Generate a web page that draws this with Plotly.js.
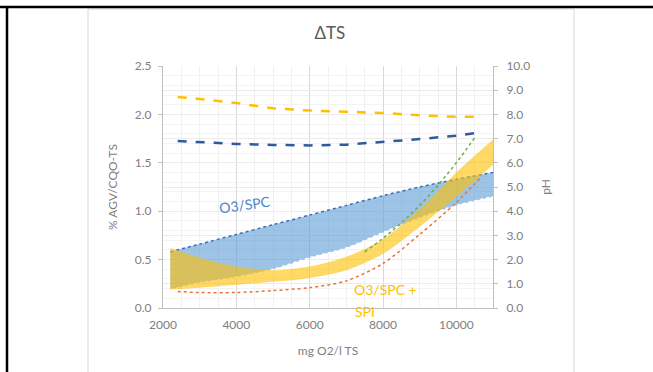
<!DOCTYPE html>
<html>
<head>
<meta charset="utf-8">
<script src="https://cdn.plot.ly/plotly-3.0.1.min.js"></script>
<style>
  html, body { margin: 0; padding: 0; background: #ffffff; }
  #chart { width: 653px; height: 372px; }
</style>
</head>
<body>
<div id="chart"></div>
<script>
// Dose axis (mg O2/l TS) for the shaded ranges
const bandX = [2200, 3000, 4000, 5000, 6000, 7000, 8000, 9000, 10000, 11000];
// O3/SPC range of % AGV/CQO-TS
const spcUpper = [0.58, 0.66, 0.76, 0.86, 0.96, 1.06, 1.16, 1.25, 1.33, 1.40];
const spcLower = [0.19, 0.26, 0.32, 0.40, 0.52, 0.62, 0.78, 0.93, 1.06, 1.15];
// O3/SPC + SPI range of % AGV/CQO-TS
const spiUpper = [0.62, 0.52, 0.43, 0.39, 0.43, 0.53, 0.71, 1.02, 1.40, 1.74];
const spiLower = [0.19, 0.21, 0.24, 0.27, 0.31, 0.39, 0.56, 0.84, 1.15, 1.48];

// Lower limit line of the O3/SPC + SPI range
const limitX = [2400, 3000, 4000, 5000, 6000, 7000, 8000, 9000, 10000, 10700];
const spiLimit = [0.17, 0.16, 0.16, 0.18, 0.21, 0.28, 0.46, 0.76, 1.09, 1.36];

// Trend line
const trendX = [7500, 8000, 8500, 9000, 9500, 10000, 10500];
const trendY = [0.58, 0.72, 0.88, 1.06, 1.27, 1.50, 1.76];

// pH (right axis)
const phX = [2400, 3000, 4000, 5000, 6000, 7000, 8000, 9000, 10000, 10600];
const phSpi = [8.72, 8.64, 8.47, 8.25, 8.16, 8.10, 8.06, 7.96, 7.90, 7.90];
const phSpc = [6.90, 6.85, 6.78, 6.74, 6.72, 6.75, 6.85, 6.98, 7.12, 7.25];

// Tick labels
const xTicks = [2000, 4000, 6000, 8000, 10000];

const FONT = 'Lato, "Open Sans", sans-serif';
const GREY = '#808080';

const traces = [
  { x: bandX, y: spcLower, type: 'scatter', mode: 'lines',
    line: { color: '#ffffff', width: 1.5, dash: 'dot', shape: 'spline', smoothing: 0.8 }, showlegend: false },
  { x: bandX, y: spcUpper, type: 'scatter', mode: 'lines', fill: 'tonexty',
    fillcolor: 'rgba(91,155,213,0.6)',
    line: { color: '#3a6fb5', width: 1.5, dash: 'dot', shape: 'spline', smoothing: 0.8 }, showlegend: false },
  { x: bandX, y: spiLower, type: 'scatter', mode: 'lines',
    line: { color: 'rgba(0,0,0,0)', width: 0, shape: 'spline', smoothing: 0.8 }, showlegend: false },
  { x: bandX, y: spiUpper, type: 'scatter', mode: 'lines', fill: 'tonexty',
    fillcolor: 'rgba(255,192,0,0.6)',
    line: { color: 'rgba(0,0,0,0)', width: 0, shape: 'spline', smoothing: 0.8 }, showlegend: false },
  { x: limitX, y: spiLimit, type: 'scatter', mode: 'lines',
    line: { color: '#e8743b', width: 1.5, dash: 'dot', shape: 'spline', smoothing: 0.8 }, showlegend: false },
  { x: trendX, y: trendY, type: 'scatter', mode: 'lines',
    line: { color: '#70ad47', width: 1.5, dash: 'dot', shape: 'spline' }, showlegend: false },
  { x: phX, y: phSpi, type: 'scatter', mode: 'lines', yaxis: 'y2',
    line: { color: '#ffc000', width: 2.5, dash: 'dash' }, showlegend: false },
  { x: phX, y: phSpc, type: 'scatter', mode: 'lines', yaxis: 'y2',
    line: { color: '#2e5c9a', width: 2.5, dash: 'dash' }, showlegend: false }
];

const tickFont = { family: FONT, size: 12, color: GREY };

const layout = {
  width: 653,
  height: 372,
  margin: { l: 163, r: 160, t: 66, b: 64 },
  paper_bgcolor: '#ffffff',
  plot_bgcolor: '#ffffff',
  showlegend: false,
  hovermode: false,
  title: {
    text: 'ΔTS',
    font: { family: FONT, size: 17, color: '#595959' },
    xref: 'paper', x: 0.506, xanchor: 'center',
    yref: 'container', y: 0.911, yanchor: 'middle'
  },
  xaxis: {
    range: [2000, 11000],
    tickvals: xTicks,
    ticktext: xTicks.map(String),
    showgrid: true, gridcolor: '#d9d9d9', gridwidth: 1,
    minor: { dtick: 500, tick0: 2000, showgrid: true, gridcolor: '#f0f0f0' },
    showline: true, linecolor: '#bfbfbf', linewidth: 1,
    zeroline: false, ticks: '',
    ticklabelstandoff: 6,
    tickfont: tickFont,
    title: { text: 'mg O2/l TS', font: { family: FONT, size: 12, color: GREY }, standoff: 15 }
  },
  yaxis: {
    range: [0, 2.5],
    dtick: 0.5, tick0: 0, tickformat: '.1f',
    showgrid: true, gridcolor: '#d9d9d9', gridwidth: 1,
    minor: { dtick: 0.1, showgrid: true, gridcolor: '#f3f3f3' },
    showline: true, linecolor: '#bfbfbf', linewidth: 1,
    zeroline: false, ticks: 'outside', ticklen: 4, tickcolor: '#bfbfbf',
    ticklabelstandoff: 4,
    tickfont: tickFont,
    title: { text: '% AGV/CQO-TS', font: { family: FONT, size: 12, color: GREY }, standoff: 14 }
  },
  yaxis2: {
    overlaying: 'y', side: 'right',
    range: [0, 10],
    dtick: 1, tick0: 0, tickformat: '.1f',
    showgrid: true, gridcolor: '#ececec', gridwidth: 1,
    showline: true, linecolor: '#bfbfbf', linewidth: 1,
    zeroline: false, ticks: 'outside', ticklen: 4, tickcolor: '#bfbfbf',
    ticklabelstandoff: 6,
    tickfont: tickFont,
    title: { text: 'pH', font: { family: FONT, size: 12, color: GREY }, standoff: 12 }
  },
  annotations: [
    { xref: 'x', yref: 'y', x: 4236, y: 1.07, text: 'O3/SPC', showarrow: false,
      textangle: -8, font: { family: FONT, size: 14, color: '#4a86c8' } },
    { xref: 'paper', yref: 'paper', x: 0.5727, y: 0.0744, text: 'O3/SPC +', showarrow: false,
      xanchor: 'left', yanchor: 'middle', font: { family: FONT, size: 14, color: '#ffc000' } },
    { xref: 'paper', yref: 'paper', x: 0.5758, y: -0.0165, text: 'SPI', showarrow: false,
      xanchor: 'left', yanchor: 'middle', font: { family: FONT, size: 14, color: '#ffc000' } }
  ],
  shapes: [
    // chart box
    { type: 'rect', xref: 'paper', yref: 'paper', x0: -0.2273, x1: 1.2455, y0: -0.32, y1: 1.2355,
      line: { color: '#d9d9d9', width: 1 }, fillcolor: 'rgba(0,0,0,0)', layer: 'below' },
    // page frame rules
    { type: 'line', xref: 'paper', yref: 'paper', x0: -0.52, x1: 1.52, y0: 1.2438, y1: 1.2438,
      line: { color: '#000000', width: 2.5 } },
    { type: 'line', xref: 'paper', yref: 'paper', x0: -0.4727, x1: -0.4727, y0: 1.2438, y1: -0.32,
      line: { color: '#000000', width: 2.5 } }
  ]
};

Plotly.newPlot('chart', traces, layout, { displayModeBar: false, staticPlot: true });
</script>
</body>
</html>
